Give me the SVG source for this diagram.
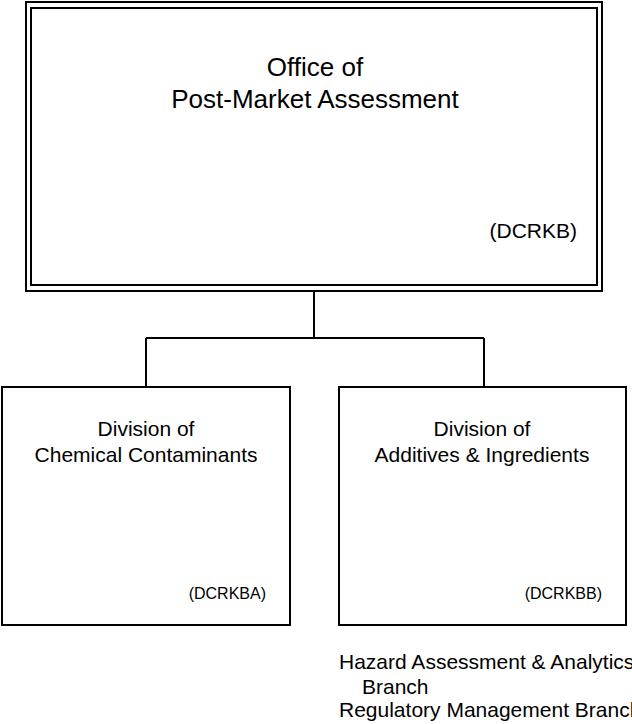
<svg xmlns="http://www.w3.org/2000/svg" width="632" height="724" viewBox="0 0 632 724">
<style>
.box{fill:#fff;stroke:#000;stroke-width:2}
.ln{fill:none;stroke:#000;stroke-width:2}
text{font-family:"Liberation Sans",Arial,sans-serif;fill:#000}
.t1{font-size:26px;text-anchor:middle}
.t2{font-size:21px;text-anchor:middle}
.c1{font-size:21px;text-anchor:end}
.c2{font-size:16px;text-anchor:end}
.br{font-size:21px}
</style>
<rect width="632" height="724" fill="#fff"/>
<g id="connectors">
<path class="ln" d="M314 291 V338 M146 338 H484 M146 338 V387 M484 338 V387"/>
</g>
<g id="office">
<rect class="box" x="26" y="2" width="576" height="289"/>
<rect class="box" x="31" y="8" width="566" height="277"/>
<text class="t1" x="315" y="76">Office of</text>
<text class="t1" x="315" y="108">Post-Market Assessment</text>
<text class="c1" x="577" y="238">(DCRKB)</text>
</g>
<g id="dcc">
<rect class="box" x="2" y="387" width="288" height="238"/>
<text class="t2" x="146" y="436">Division of</text>
<text class="t2" x="146" y="462">Chemical Contaminants</text>
<text class="c2" x="266" y="599">(DCRKBA)</text>
</g>
<g id="dai">
<rect class="box" x="339" y="387" width="287" height="238"/>
<text class="t2" x="482" y="436">Division of</text>
<text class="t2" x="482" y="462">Additives &amp; Ingredients</text>
<text class="c2" x="602" y="599">(DCRKBB)</text>
</g>
<g id="branches">
<text class="br" x="339" y="669">Hazard Assessment &amp; Analytics</text>
<text class="br" x="362" y="694">Branch</text>
<text class="br" x="339" y="717">Regulatory Management Branch</text>
</g>
</svg>
